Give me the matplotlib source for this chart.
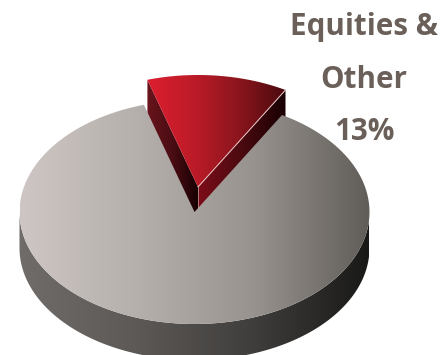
import numpy as np
import matplotlib
matplotlib.use("Agg")
import matplotlib.pyplot as plt
from matplotlib.colors import LinearSegmentedColormap
from matplotlib.patches import Polygon

# Portfolio shares, in percent
categories = ["Fixed Income", "Equities & Other"]
shares = [87, 13]
label_lines = ["Equities &", "Other", "13%"]

# Disc projection, in pixels
CX, CY, RX, RY = 194.5, 212.0, 175.0, 112.0
DEPTH = 36.0
SLICE_SHIFT = (3.5, -25.0)
START_DEG = 60.0

fig = plt.figure(figsize=(4.43, 3.55), dpi=100, facecolor="white")
ax = fig.add_axes([0, 0, 1, 1])
ax.set_xlim(0, 443)
ax.set_ylim(355, 0)
ax.axis("off")


def rim(a0, a1, dx=0.0, dy=0.0, n=160):
    t = np.radians(np.linspace(a0, a1, n))
    return np.column_stack([CX + dx + RX * np.cos(t), CY + dy - RY * np.sin(t)])


def shade(points, colors, zorder):
    """Fill a polygon with a left-to-right colour ramp spanning its own width."""
    points = np.asarray(points)
    x0, x1 = points[:, 0].min(), points[:, 0].max()
    y0, y1 = points[:, 1].min(), points[:, 1].max()
    cmap = LinearSegmentedColormap.from_list("ramp", colors)
    ramp = np.linspace(0, 1, 256).reshape(1, -1)
    im = ax.imshow(ramp, cmap=cmap, extent=[x0, x1, y1, y0], aspect="auto",
                   interpolation="bilinear", zorder=zorder)
    im.set_clip_path(Polygon(points, closed=True, transform=ax.transData))


sweep = shares[1] / sum(shares) * 360.0
end_deg = START_DEG + sweep

# Outer wall of the large segment
wall = np.vstack([rim(180, 360), rim(360, 180, dy=DEPTH)])
shade(wall, ["#706c69", "#5c5957", "#403e3c", "#191917"], 1)

# Cut faces of the raised slice; the lower parts sit behind the large segment
sx, sy = SLICE_SHIFT
apex = np.array([CX + sx, CY + sy])
left_pt = rim(end_deg, end_deg, sx, sy, 1)[0]
right_pt = rim(START_DEG, START_DEG, sx, sy, 1)[0]
drop = np.array([0, DEPTH])
shade([left_pt, apex, apex + drop, left_pt + drop],
      ["#6a141c", "#4a0d13", "#180003"], 2)
shade([apex, right_pt, right_pt + drop, apex + drop],
      ["#7d0d19", "#4a0a10", "#180003"], 2)

# Top of the large segment, with the notch left by the slice
top = np.vstack([[[CX, CY]], rim(end_deg, START_DEG + 360)])
shade(top, ["#cec6c4", "#b5b0ab", "#98938f", "#605c58"], 3)

# Top of the raised slice
slice_top = np.vstack([[apex], rim(START_DEG, end_deg, sx, sy)])
shade(slice_top, ["#dc1f30", "#bd1b28", "#8a151d", "#4a0a0e"], 4)
ax.plot([apex[0], right_pt[0]], [apex[1], right_pt[1]], color="#e9c9c9", lw=0.7, zorder=5)
ax.plot([apex[0], apex[0]], [apex[1], apex[1] + 20], color="#c9a9a9", lw=0.5, zorder=5)

# Slice label
for line, y in zip(label_lines, [35, 88, 140]):
    ax.text(364, y, line, ha="center", va="baseline", fontsize=21.3, fontweight="bold",
            family="Open Sans", color="#6b6059", zorder=6)

fig.savefig("out.png", dpi=100, facecolor="white")
